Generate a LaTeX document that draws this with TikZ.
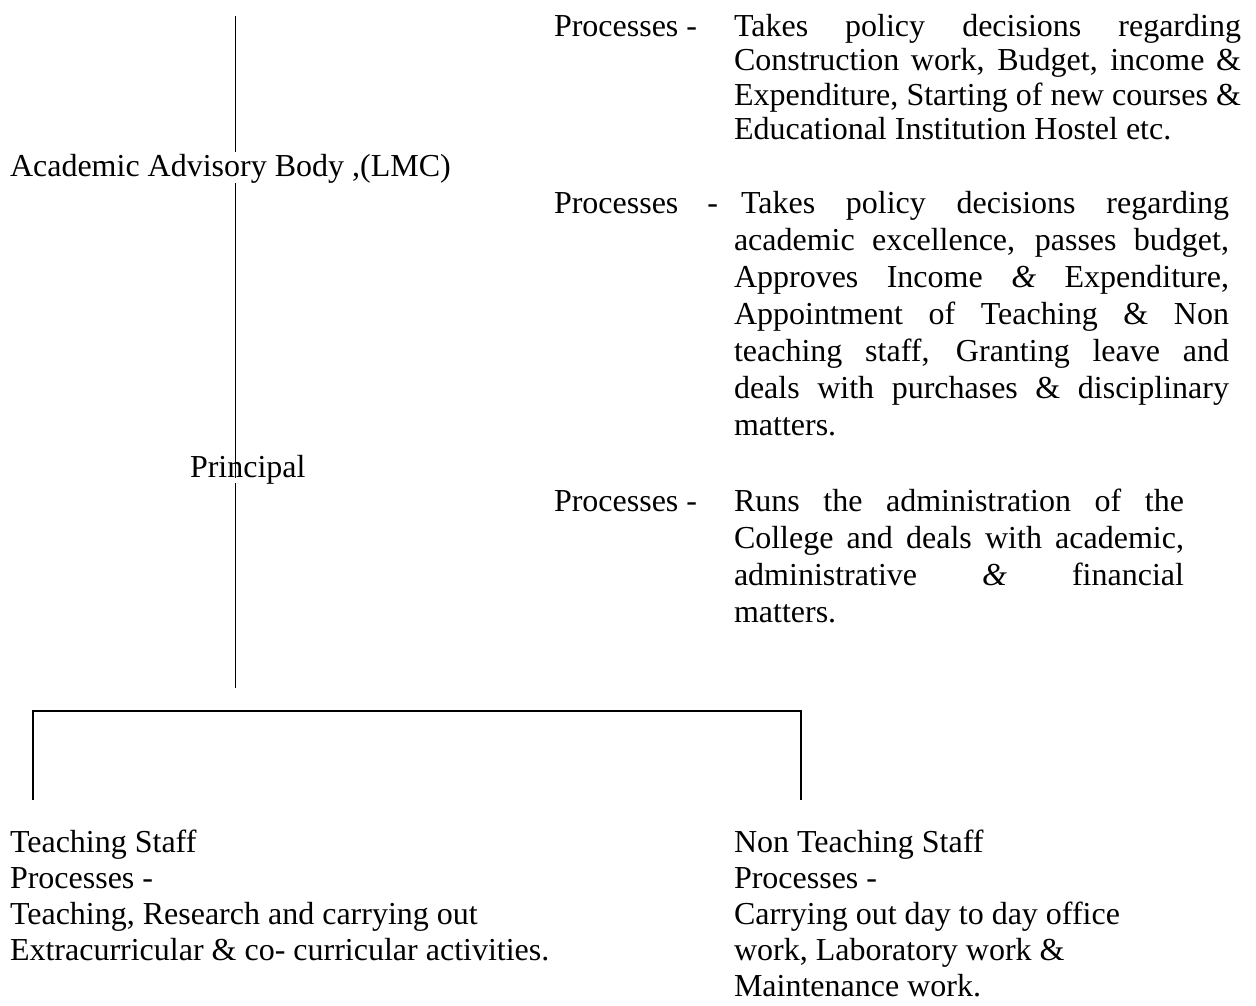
\documentclass[tikz,border=0pt]{standalone}
\usepackage{fontspec}
\setmainfont{Liberation Serif}
\tikzset{
  txt/.style={anchor=base west, inner sep=0pt, outer sep=0pt, font=\fontsize{32}{34}\selectfont},
  vline/.style={line width=1.6pt},
  brk/.style={line width=2pt, line join=miter}
}
\newcommand{\jl}[2]{\makebox[#1pt][s]{#2}}
\newcommand{\nl}[2]{\makebox[#1pt][l]{#2}}
\newcommand{\blk}[3]{\parbox[t]{#1pt}{\fontsize{32}{#2}\selectfont\setlength{\parindent}{0pt}\setlength{\parskip}{0pt}#3}}
\begin{document}
\begin{tikzpicture}[x=1pt,y=-1pt]
\useasboundingbox[fill=white] (0,0) rectangle (1256,1005);
% free ends of the main vertical line
\coordinate (vtop) at (235.5,16);
\coordinate (vbot) at (235.5,688);
% left labels
\node[txt] (ab) at (10,176) {Academic Advisory Body ,(LMC)};
\node[txt] (pr) at (190,477) {Principal};
% main vertical line (broken around the Academic Advisory Body label)
\draw[vline] (vtop) -- (vtop |- 0,152);
\draw[vline] (vtop |- 0,183) -- (vtop |- 0,478);
\draw[vline] (vtop |- 0,483) -- (vbot);
% right column
\node[txt] (p1) at (554,36) {Processes -};
\node[txt] (b1) at (734,36) {\blk{507}{34.5}{%
\jl{507}{Takes policy decisions regarding}\par
\jl{507}{Construction work, Budget, income \&}\par
\jl{507}{Expenditure, Starting of new courses \&}\par
\nl{507}{Educational Institution Hostel etc.}}};
\node[txt] (p2) at (554,213) {Processes\hspace{29pt}-};
\node[txt] (b2) at (734,213) {\blk{495}{37}{%
\jl{495}{\hspace*{7pt}Takes policy decisions regarding}\par
\jl{495}{academic excellence, passes budget,}\par
\jl{495}{Approves Income \textit{\&} Expenditure,}\par
\jl{495}{Appointment of Teaching \& Non}\par
\jl{495}{teaching staff, Granting leave and}\par
\jl{495}{deals with purchases \& disciplinary}\par
\nl{495}{matters.}}};
\node[txt] (p3) at (554,511) {Processes -};
\node[txt] (b3) at (734,511) {\blk{450}{37}{%
\jl{450}{Runs the administration of the}\par
\jl{450}{College and deals with academic,}\par
\jl{450}{administrative \textit{\&} financial}\par
\nl{450}{matters.}}};
% bracket
\coordinate (lt) at (32.5,800);
\coordinate (lc) at (32.5,710.5);
\coordinate (rc) at (800.5,710.5);
\coordinate (rt) at (800.5,800);
\draw[brk] (lt) -- (lc) -- (rc) -- (rt);
% bottom
\node[txt] (ts) at (10,852) {\blk{700}{36}{%
Teaching Staff\par
Processes -\par
Teaching, Research and carrying out\par
Extracurricular \& co- curricular activities.}};
\node[txt] (nts) at (734,852) {\blk{500}{36}{%
Non Teaching Staff\par
Processes -\par
Carrying out day to day office\par
work, Laboratory work \&\par
Maintenance work.}};
\end{tikzpicture}
\end{document}
